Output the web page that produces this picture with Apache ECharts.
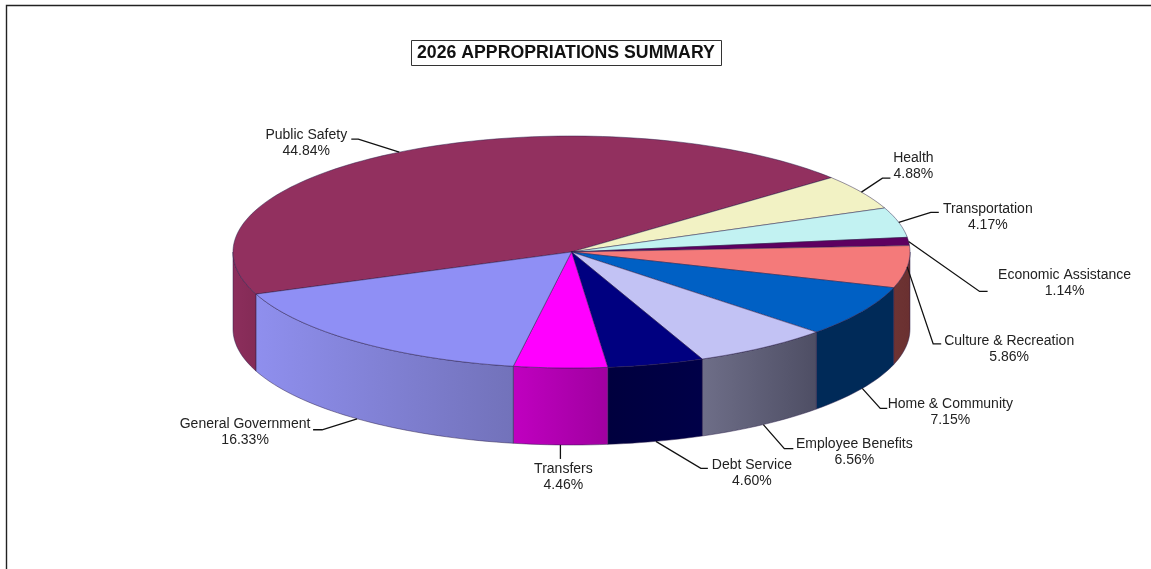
<!DOCTYPE html>
<html>
<head>
<meta charset="utf-8">
<style>html,body{margin:0;padding:0;background:#fff}#chart{width:1151px;height:569px}</style>
<script src="https://cdn.jsdelivr.net/npm/echarts@6/dist/echarts.min.js"></script>
</head>
<body>
<div id="chart"></div>
<script>
// Budget shares, clockwise from the Public Safety slice
const categories = ['Public Safety', 'Health', 'Transportation', 'Economic Assistance', 'Culture & Recreation',
  'Home & Community', 'Employee Benefits', 'Debt Service', 'Transfers', 'General Government'];
const shares = [44.84, 4.88, 4.17, 1.14, 5.86, 7.15, 6.56, 4.60, 4.46, 16.33];

// Slice colours: top face, then the left and right stops of the outer wall
const topColors = ['#92305f', '#f2f2c4', '#c2f2f2', '#5e0060', '#f47a7a', '#0060c4', '#c2c2f4', '#000080', '#ff00ff', '#8f8ff5'];
const wallLeft = ['#8c2e5c', '#b8b890', '#90b4b4', '#480048', '#6e3434', '#002a58', '#6e6e88', '#00003e', '#c000c0', '#8f8fee'];
const wallRight = ['#842b56', '#b8b890', '#90b4b4', '#480048', '#6a3030', '#002a58', '#4e4e64', '#000048', '#a000a0', '#7272ba'];

// Disc geometry in pixels
const disc = { cx: 571.5, cy: 252, rx: 338.5, ry: 116, depth: 77, startDeg: 248.7 };

// Leader routing per slice: whether it leaves the lower rim, elbow and end offsets
// from that rim anchor, then the label centre relative to the leader's end
const leaders = [
  { lower: 0, elbow: [-41, -13], end: [-48, -13], label: [-45, 4.5] },
  { lower: 0, elbow: [21, -14], end: [29, -14], label: [23, -12] },
  { lower: 0, elbow: [32, -10], end: [40, -10], label: [49, 5] },
  { lower: 0, elbow: [71, 50], end: [79, 50], label: [77, -8] },
  { lower: 0, elbow: [26, 77], end: [34, 77], label: [68, 5] },
  { lower: 1, elbow: [18, 20], end: [25, 20], label: [63, 4] },
  { lower: 1, elbow: [21, 24], end: [30, 24], label: [61, 3.5] },
  { lower: 1, elbow: [45, 27], end: [52, 27], label: [44, 5] },
  { lower: 1, elbow: [0, 14], end: [0, 14], label: [3, 18] },
  { lower: 1, elbow: [-35, 11], end: [-44, 11], label: [-68, 2] }
];

const total = shares.reduce((a, b) => a + b, 0);
const rad = d => d * Math.PI / 180;
// Point on the disc rim for a clockwise angle from twelve o'clock
const rim = (deg, drop) => [
  disc.cx + disc.rx * Math.sin(rad(deg)),
  disc.cy - disc.ry * Math.cos(rad(deg)) + drop
];
const arc = (from, to, drop) => {
  const steps = Math.max(2, Math.ceil(Math.abs(to - from) / 1.5));
  const pts = [];
  for (let i = 0; i <= steps; i++) pts.push(rim(from + (to - from) * i / steps, drop));
  return pts;
};

const edge = 'rgba(40,28,72,0.6)';

function renderSlice(params, api) {
  const idx = params.dataIndex;
  let before = 0;
  for (let i = 0; i < idx; i++) before += shares[i];
  const value = api.value(1);
  const a0 = disc.startDeg + before / total * 360;
  const a1 = a0 + value / total * 360;
  const children = [];

  // Outer wall: only the part of the slice facing the viewer (90° to 270°, mod 360)
  [[90, 270], [450, 630]].forEach(([lo, hi]) => {
    const f = Math.max(a0, lo), t = Math.min(a1, hi);
    if (f >= t) return;
    const upper = arc(f, t, 0);
    const lower = arc(t, f, disc.depth);
    children.push({
      type: 'polygon',
      z2: 1,
      shape: { points: upper.concat(lower) },
      style: {
        fill: new echarts.graphic.LinearGradient(0, 0, 1, 0, [
          { offset: 0, color: wallLeft[idx] },
          { offset: 1, color: wallRight[idx] }
        ]),
        stroke: edge,
        lineWidth: 0.8
      }
    });
  });

  // Top face
  children.push({
    type: 'polygon',
    z2: 2,
    shape: { points: [[disc.cx, disc.cy]].concat(arc(a0, a1, 0)) },
    style: { fill: topColors[idx], stroke: edge, lineWidth: 0.8 }
  });

  // Leader line and two-line label
  const mid = (a0 + a1) / 2;
  const lead = leaders[idx];
  const anchor = rim(mid, lead.lower ? disc.depth : 0);
  const elbow = [anchor[0] + lead.elbow[0], anchor[1] + lead.elbow[1]];
  const end = [anchor[0] + lead.end[0], anchor[1] + lead.end[1]];
  children.push({
    type: 'polyline',
    z2: 3,
    shape: { points: [anchor, elbow, end] },
    style: { stroke: '#111', lineWidth: 1.3, fill: null }
  });
  children.push({
    type: 'text',
    z2: 4,
    x: end[0] + lead.label[0],
    y: end[1] + lead.label[1],
    style: {
      text: categories[idx] + '\n' + value.toFixed(2) + '%',
      font: '14px "Liberation Sans", Arial, sans-serif',
      lineHeight: 16,
      fill: '#222',
      align: 'center',
      verticalAlign: 'middle'
    }
  });

  return { type: 'group', children };
}

const chart = echarts.init(document.getElementById('chart'), null, { renderer: 'canvas' });
chart.setOption({
  animation: false,
  backgroundColor: '#ffffff',
  title: {
    text: '2026 APPROPRIATIONS SUMMARY',
    left: 411,
    top: 41,
    padding: [4, 7, 3, 6],
    borderColor: '#333',
    borderWidth: 1,
    backgroundColor: '#fff',
    textStyle: { fontFamily: '"Liberation Sans", Arial, sans-serif', fontWeight: 'bold', fontSize: 17.7, color: '#111', lineHeight: 17 }
  },
  graphic: [
    { type: 'polyline', silent: true, shape: { points: [[6.5, 569], [6.5, 5.5], [1151, 5.5]] }, style: { stroke: '#222', lineWidth: 1.4, fill: null } }
  ],
  series: [{
    type: 'custom',
    coordinateSystem: 'none',
    silent: true,
    encode: { value: 1 },
    renderItem: renderSlice,
    data: categories.map((name, i) => [name, shares[i]])
  }]
});
</script>
</body>
</html>
